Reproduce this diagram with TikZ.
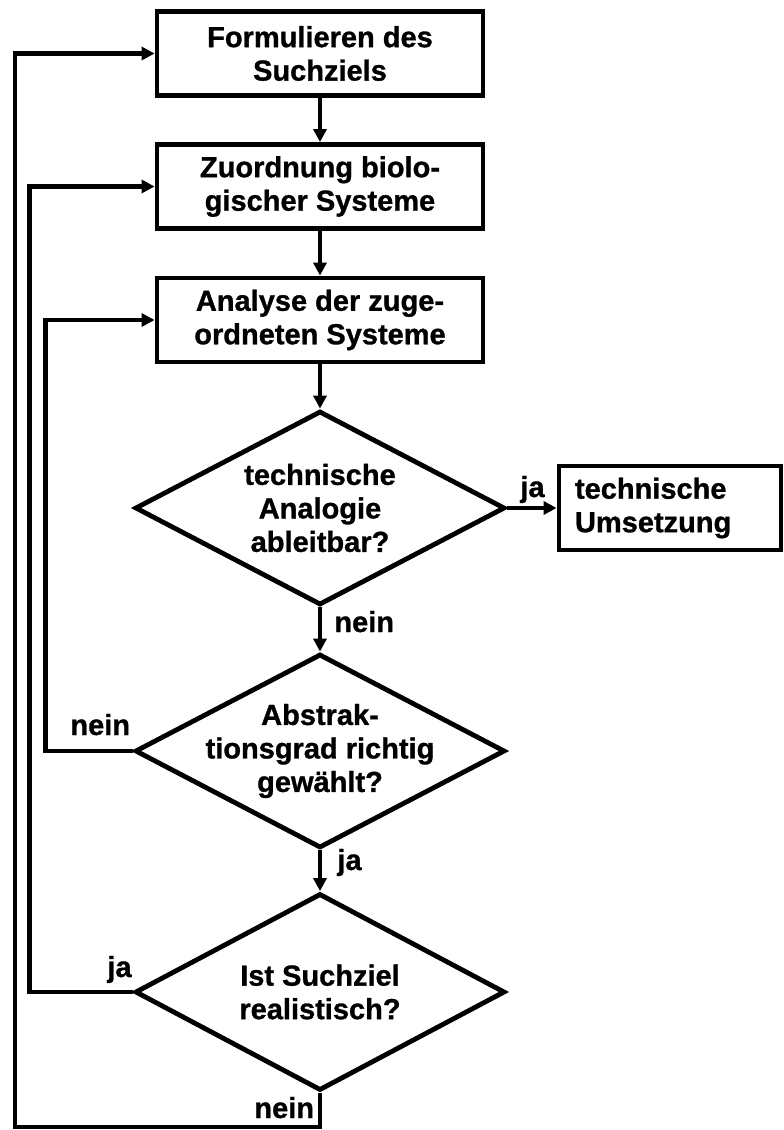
\documentclass[tikz,border=0pt]{standalone}
\usepackage{fontspec}
\newfontfamily\lab{Liberation Sans}[FakeBold=1]
\usetikzlibrary{shapes.geometric,arrows.meta}
\begin{document}
\begin{tikzpicture}[x=1pt,y=-1pt, line width=4.8pt,
 every node/.style={font=\lab\bfseries\fontsize{29}{33.5}\selectfont},
 box/.style={draw, rectangle, minimum width=326, minimum height=84, align=center, inner sep=0},
 dec/.style={draw, diamond, aspect=1.9, minimum width=370, minimum height=194, inner sep=0},
 txt/.style={align=center, inner sep=0},
 arr/.style={-{Triangle[length=13pt,width=13pt]}},
 lbl/.style={inner sep=0, anchor=base west}]
\useasboundingbox (0,0) rectangle (784,1130);
\node[box] (b1) at (320,53.5) {Formulieren des\\Suchziels};
\node[box] (b2) at (320,186.5) {Zuordnung biolo-\\gischer Systeme};
\node[box] (b3) at (320,320) {Analyse der zuge-\\ordneten Systeme};
\node[dec] (d1) at (320,508) {};
\node[txt] (t1) at (d1.center) {technische\\Analogie\\ableitbar?};
\node[dec] (d2) at (320,751) {};
\node[txt] (t2) at (d2.center) {Abstrak-\\tionsgrad richtig\\gewählt?};
\node[dec, minimum height=197] (d3) at (320,992) {};
\node[txt] (t3) at (d3.center) {Ist Suchziel\\realistisch?};
\node[box, minimum width=222, minimum height=84, align=left, text width=190] (b4) at (670,508) {technische\\Umsetzung};
\node[lbl] (l1) at (518,497) {ja};
\node[lbl] (l2) at (332,632) {nein};
\node[lbl] (l3) at (68,735) {nein};
\node[lbl] (l4) at (335,870) {ja};
\node[lbl] (l5) at (105,977) {ja};
\node[lbl] (l6) at (252,1118) {nein};
\coordinate (c1) at (15,1127);
\draw[arr] (b1.south) -- (b2.north);
\draw[arr] (b2.south) -- (b3.north);
\draw[arr] (b3.south) -- (d1.north);
\draw[arr] (d1.east) -- (b4.west);
\draw[arr] (d1.south) -- (d2.north);
\draw[arr] (d2.south) -- (d3.north);
\draw[arr] (d2.west) -- ++(-87,0) |- (b3.west);
\draw[arr] (d3.west) -- ++(-103,0) |- (b2.west);
\draw[arr] (d3.south) |- (c1) |- (b1.west);
\end{tikzpicture}
\end{document}
